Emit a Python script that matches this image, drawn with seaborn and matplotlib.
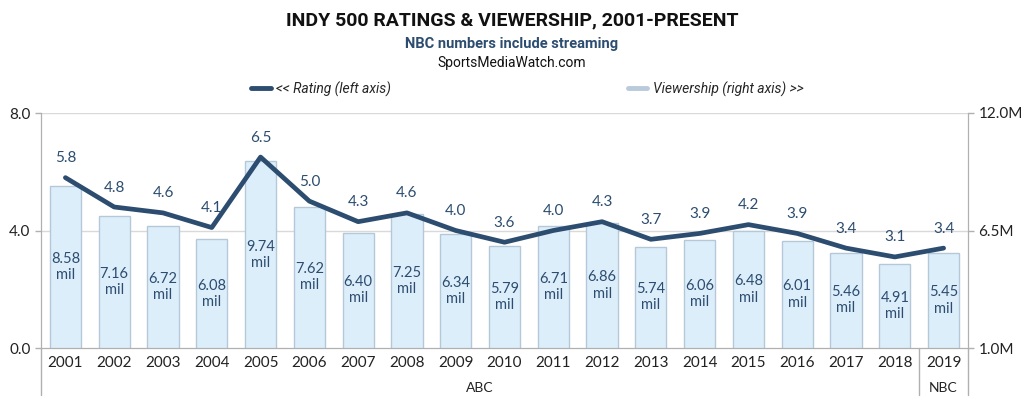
import matplotlib
matplotlib.use("Agg")
import matplotlib.pyplot as plt
import matplotlib.transforms as mtransforms
from matplotlib.lines import Line2D
import pandas as pd
import seaborn as sns

# --- data ---
years = [str(y) for y in range(2001, 2020)]
rating = [5.8, 4.8, 4.6, 4.1, 6.5, 5.0, 4.3, 4.6, 4.0, 3.6,
          4.0, 4.3, 3.7, 3.9, 4.2, 3.9, 3.4, 3.1, 3.4]
viewers = [8.58, 7.16, 6.72, 6.08, 9.74, 7.62, 6.40, 7.25, 6.34, 5.79,
           6.71, 6.86, 5.74, 6.06, 6.48, 6.01, 5.46, 4.91, 5.45]
networks = ["ABC"] * 18 + ["NBC"]
left_ticks = [0.0, 4.0, 8.0]
right_ticks = [1.0, 6.5, 12.0]

df = pd.DataFrame({"year": years, "rating": rating, "viewers": viewers, "network": networks})

# --- style ---
sns.set_style("white")
plt.rcParams["font.family"] = ["Lato", "DejaVu Sans"]

LINE = "#2c4d70"
BAR = "#ddeefb"
BAR_EDGE = "#b5c8d8"
GRID = "#d9d9d9"
SPINE = "#b0b0b0"
TXT = "#222222"
HEAD = ["Roboto", "DejaVu Sans"]

fig = plt.figure(figsize=(10.24, 4.03), dpi=100)
ax = fig.add_axes([41 / 1024, 1 - 348 / 403, 927 / 1024, 235 / 403])

# bars on the primary axes (right scale), line on twin (left scale) so it sits on top
sns.barplot(data=df, x="year", y="viewers", ax=ax, color=BAR, edgecolor=BAR_EDGE,
            linewidth=1, width=0.64, saturation=1)
for i, v in enumerate(viewers):
    ax.text(i, (1 + v) / 2, f"{v:.2f}\nmil", ha="center", va="center",
            fontsize=10.5, color=LINE, linespacing=1.2)

ax2 = ax.twinx()
sns.lineplot(data=df, x="year", y="rating", ax=ax2, color=LINE, linewidth=3.4,
             sort=False)
for i, r in enumerate(rating):
    ax2.annotate(f"{r:.1f}", (i, r), xytext=(0, 9), textcoords="offset points",
                 ha="center", va="bottom", fontsize=11, color=LINE)

# swap sides: viewers on the right, rating on the left
ax.set_ylim(1, 12)
ax.yaxis.tick_right()
ax.set_yticks(right_ticks)
ax.set_yticklabels([f"{t:.1f}M" for t in right_ticks])
ax2.set_ylim(0, 8)
ax2.yaxis.tick_left()
ax2.set_yticks(left_ticks)
ax2.set_yticklabels([f"{t:.1f}" for t in left_ticks])

for a in (ax, ax2):
    a.set_xlabel("")
    a.set_ylabel("")
    a.set_xlim(-0.5, len(years) - 0.5)
    a.tick_params(axis="y", labelsize=11, labelcolor=TXT, color=SPINE, length=4, width=1)
    for s in a.spines.values():
        s.set_color(SPINE)
    a.spines["top"].set_visible(False)

ax2.grid(False)
ax.set_axisbelow(True)
for t in left_ticks[1:]:
    ax.axhline(1 + t / 8 * 11, color=GRID, linewidth=1, zorder=0)

# category separators below the axis
ax.set_xticks(range(len(years)))
ax.set_xticklabels(years)
ax.set_xticks([i - 0.5 for i in range(len(years) + 1)], minor=True)
ax.tick_params(axis="x", which="major", length=0, labelsize=11, labelcolor=TXT, pad=6)
ax.tick_params(axis="x", which="minor", length=18, color=SPINE, width=1)
ax2.tick_params(axis="x", which="both", length=0, labelbottom=False)

# network group brackets
trans = mtransforms.blended_transform_factory(ax.transData, ax.transAxes)
for xb in [-0.5, 17.5, 18.5]:
    ax.plot([xb, xb], [0, -0.2], transform=trans, color=SPINE, linewidth=1, clip_on=False)
for net in ["ABC", "NBC"]:
    idx = [i for i, n in enumerate(networks) if n == net]
    ax.text((idx[0] + idx[-1]) / 2, -0.17, net, transform=trans, ha="center", va="center",
            fontsize=10, color=TXT)

# titles
fig.text(0.5, 1 - 20 / 403, "INDY 500 RATINGS & VIEWERSHIP, 2001-PRESENT", ha="center",
         va="center", fontsize=14, fontweight="bold", color="#111111", family=HEAD)
fig.text(0.5, 1 - 44 / 403, "NBC numbers include streaming", ha="center", va="center",
         fontsize=10.5, fontweight="bold", color=LINE, family=HEAD)
fig.text(0.5, 1 - 63 / 403, "SportsMediaWatch.com", ha="center", va="center",
         fontsize=10, color="#111111", family=HEAD)

# legend
handles = [Line2D([], [], color=LINE, linewidth=3.5),
           Line2D([], [], color="#b8cadb", linewidth=3.5)]
fig.legend(handles, ["<< Rating (left axis)", "Viewership (right axis) >>"],
           loc="center", bbox_to_anchor=(0.515, 1 - 89 / 403), ncol=2, frameon=False,
           columnspacing=17, handlelength=1.4, handletextpad=0.4,
           prop={"style": "italic", "size": 10, "family": HEAD})

fig.savefig("out.png", dpi=100)
